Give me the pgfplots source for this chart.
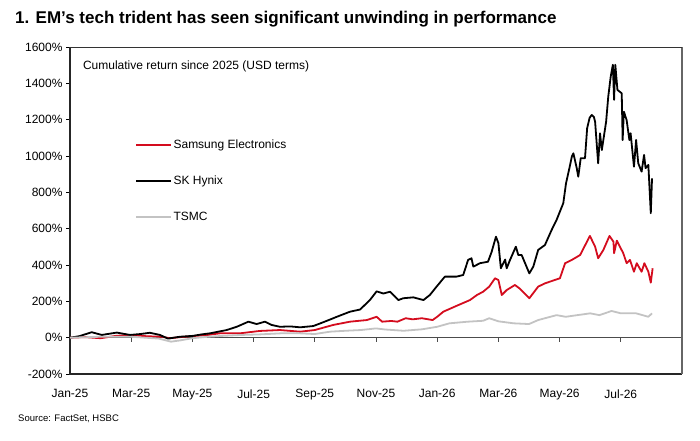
\documentclass[border=0pt]{standalone}
\usepackage{pgfplots}
\pgfplotsset{compat=1.18}
\usepackage{fontspec}
\setmainfont{Liberation Sans}
\definecolor{sred}{RGB}{212,12,30}
\definecolor{tgrey}{RGB}{195,195,195}
\begin{document}
\begin{tikzpicture}
\path[use as bounding box] (0,0) rectangle (700pt,440pt);
\node[anchor=base west, font=\bfseries\fontsize{17}{20}\selectfont, inner sep=0pt] at (15pt,416pt) {1. EM’s tech trident has seen significant unwinding in performance};
\node[anchor=base west, font=\fontsize{9.5}{11}\selectfont, inner sep=0pt] at (18pt,19pt) {Source: FactSet, HSBC};
\begin{axis}[
  at={(70pt,66pt)}, anchor=south west,
  scale only axis, width=612pt, height=327pt,
  xmin=0, xmax=20, ymin=-200, ymax=1600,
  clip=false,
  axis line style={draw=none},
  xtick={0,2,...,18},
  xticklabels={Jan-25,Mar-25,May-25,Jul-25,Sep-25,Nov-25,Jan-26,Mar-26,May-26,Jul-26},
  xtick style={draw=none},
  xticklabel style={font=\fontsize{12}{14}\selectfont, yshift=-12pt},
  ytick={-200,0,...,1600},
  yticklabel={\pgfmathprintnumber{\tick}\%},
  /pgf/number format/assume math mode=true,
  /pgf/number format/1000 sep={},
  yticklabel style={font=\fontsize{12}{14}\selectfont},
  ytick pos=left, ytick align=outside, major tick length=4pt,
  ytick style={black, line width=0.8pt},
  legend style={at={(0.106,0.722)}, anchor=north west, draw=none, fill=none,
    font=\fontsize{12}{14}\selectfont, row sep=23pt, inner sep=0pt,
    nodes={inner sep=1.5pt}},
  legend cell align=left,
  legend image code/.code={\draw[#1, line width=2pt] (0pt,0pt) -- (35pt,0pt);},
  every axis plot/.append style={line join=round},
]
\draw[gray!60!black, line width=0.8pt] (axis cs:0,0) -- (axis cs:20,0);
\pgfplotsinvokeforeach{2,4,...,18}{\draw[gray!60!black, line width=0.8pt] (axis cs:#1,0) -- ++(0pt,-4pt);}
\draw[black!85, line width=1.8pt] (rel axis cs:0,1) -- (rel axis cs:0,0) -- (rel axis cs:1,0);
\draw[gray!80!black, line width=1.5pt] (rel axis cs:1,0) -- (rel axis cs:1,1);
\draw[black!80, line width=0.8pt] (rel axis cs:0,1) -- (rel axis cs:1,1);
\node[anchor=west, font=\fontsize{12}{14}\selectfont, inner sep=0pt] at (rel axis cs:0.021,0.942) {Cumulative return since 2025 (USD terms)};

\addplot[sred, line width=1.8pt] coordinates {
(0,0) (0.5,3) (1.0,-3) (1.5,10) (1.96,15) (2.5,8) (3.0,5) (3.27,-3) (3.6,3) (4.03,9) (4.5,15) (4.9,24) (5.56,24) (6.2,37) (6.86,42) (7.52,33) (8.0,42) (8.6,70) (9.15,88) (9.7,97) (10.02,115) (10.2,88) (10.5,92) (10.7,88) (10.97,107) (11.2,101) (11.5,107) (11.85,97) (12.0,115) (12.2,143) (12.63,175) (13.07,207) (13.3,235) (13.5,253) (13.7,281) (13.89,327) (14.0,317) (14.11,235) (14.27,262) (14.54,290) (14.7,270) (15.01,217) (15.3,281) (15.52,299) (16.01,327) (16.18,410) (16.4,428) (16.67,455) (16.99,560) (17.16,501) (17.26,437) (17.43,483) (17.63,560) (17.76,528) (17.78,465) (17.87,534) (18.08,465) (18.19,410) (18.3,428) (18.43,363) (18.52,410) (18.68,363) (18.77,410) (18.9,363) (18.98,303) (19.04,382)
};
\addlegendentry{Samsung Electronics}
\addplot[black, line width=1.8pt] coordinates {
(0.00,0) (0.30,8) (0.71,30) (1.04,15) (1.30,22) (1.53,28) (1.96,15) (2.30,20) (2.61,27) (2.94,15) (3.20,-5) (3.59,5) (4.02,10) (4.30,18) (4.58,24) (5.12,42) (5.45,60) (5.83,88) (6.10,75) (6.37,88) (6.59,70) (6.86,60) (7.20,62) (7.52,57) (7.95,64) (8.20,80) (8.50,100) (8.72,115) (9.15,143) (9.48,155) (9.80,207) (10.02,255) (10.24,243) (10.46,253) (10.60,230) (10.73,207) (10.89,217) (11.22,222) (11.55,207) (11.76,235) (11.98,281) (12.25,336) (12.63,336) (12.85,345) (13.01,428) (13.12,437) (13.18,391) (13.40,410) (13.66,418) (13.78,473) (13.92,556) (14.00,520) (14.08,382) (14.22,430) (14.27,382) (14.38,428) (14.57,501) (14.65,455) (14.76,455) (15.01,354) (15.14,391) (15.30,483) (15.52,510) (15.74,593) (15.90,648) (16.12,740) (16.21,850) (16.32,933) (16.40,997) (16.45,1015) (16.56,933) (16.61,886) (16.69,988) (16.83,988) (16.90,1153) (16.98,1210) (17.05,1226) (17.12,1215) (17.16,1189) (17.22,1050) (17.26,960) (17.32,1125) (17.38,1033) (17.52,1189) (17.59,1327) (17.67,1437) (17.74,1502) (17.78,1309) (17.82,1502) (17.89,1364) (18.03,1345) (18.06,1088) (18.10,1244) (18.19,1198) (18.28,1088) (18.32,1125) (18.43,941) (18.50,1088) (18.57,960) (18.68,914) (18.76,1006) (18.81,933) (18.90,951) (18.98,685) (19.02,877)
};
\addlegendentry{SK Hynix}
\addplot[tgrey, line width=1.8pt] coordinates {
(0,0) (1,5) (2,5) (2.9,-5) (3.3,-22) (3.6,-15) (4.0,-3) (4.5,5) (5,10) (5.6,15) (6.2,18) (6.9,24) (7.5,24) (8.0,20) (8.5,33) (9,38) (9.5,42) (10,51) (10.3,45) (10.9,38) (11.5,46) (12,60) (12.4,79) (13,88) (13.5,93) (13.7,107) (14.0,90) (14.5,79) (15,75) (15.3,97) (15.9,124) (16.2,115) (17.0,134) (17.3,124) (17.7,147) (18.0,134) (18.5,134) (18.9,115) (19.02,134)
};
\addlegendentry{TSMC}
\end{axis}
\end{tikzpicture}
\end{document}
